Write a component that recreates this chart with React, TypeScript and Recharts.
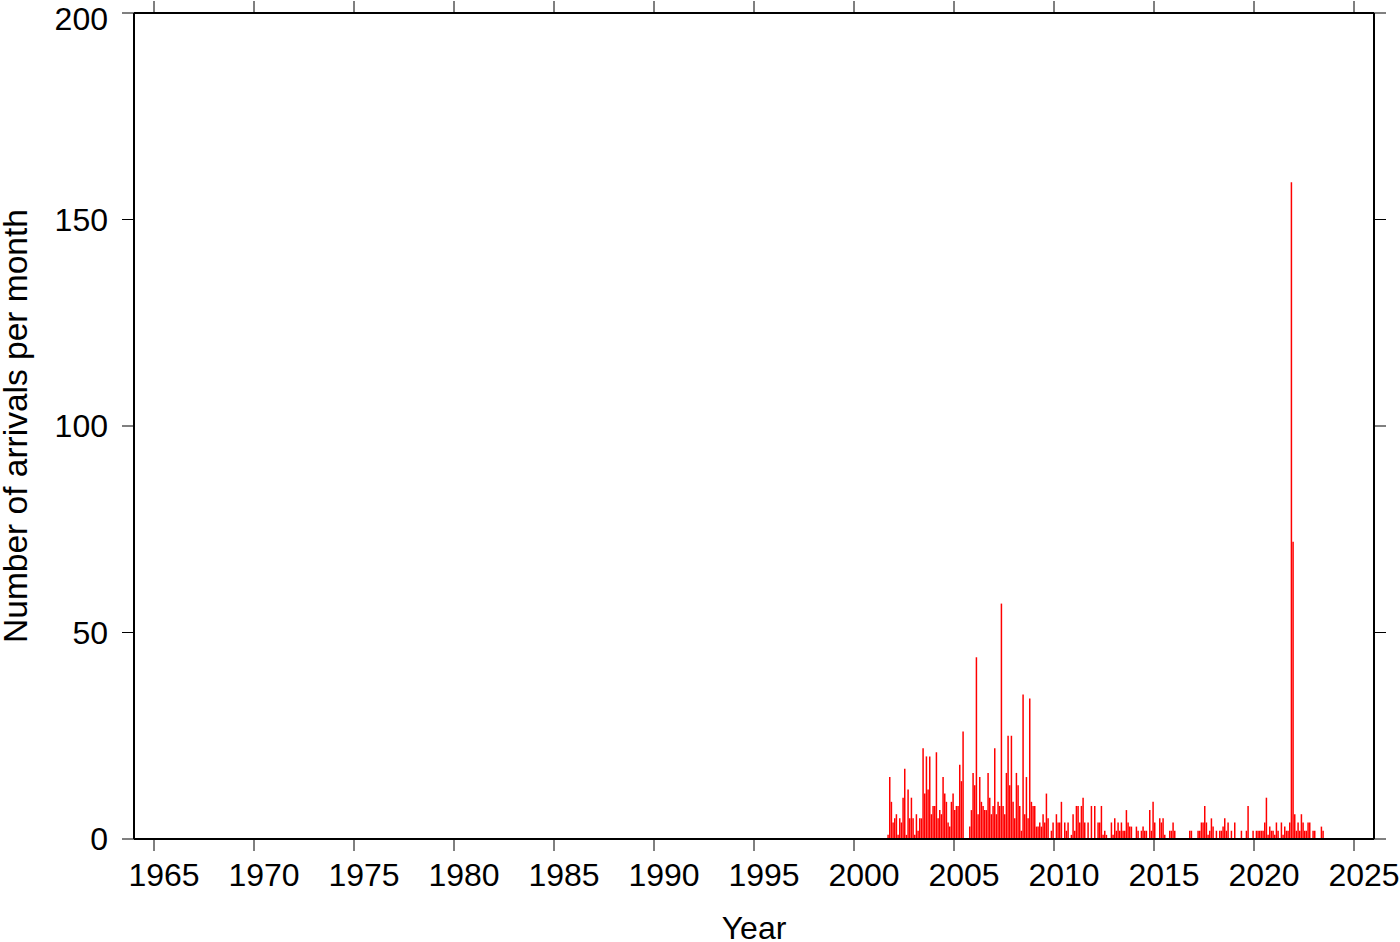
import { BarChart, Bar, XAxis, YAxis } from 'recharts';

// monthly arrival counts, starting September 2001
const startYear = 2001;
const startMonth = 8; // 0 = January
const arrivals = [
  1, 15, 9, 4, 5, 6, 1, 5, 4, 10, 17, 1, 12, 5, 10, 5, 1, 6, 2, 5, 5, 22, 11, 20, 12, 20, 6, 8, 8, 21, 5, 7, 6, 15, 11, 9, 4, 3, 9, 11, 7, 8, 8, 18,
  14, 26, 0, 0, 0, 3, 7, 16, 13, 44, 6, 15, 9, 8, 7, 7, 16, 10, 6, 8, 22, 6, 9, 8, 57, 8, 6, 16, 25, 13, 25, 9, 5, 16, 13, 8, 2, 35, 6, 15, 5, 34, 9, 8,
  8, 3, 3, 4, 3, 6, 4, 11, 5, 0, 2, 4, 0, 6, 4, 4, 9, 0, 4, 2, 4, 0, 1, 6, 2, 8, 8, 4, 8, 10, 4, 0, 4, 0, 8, 0, 8, 0, 4, 4, 8, 1, 2, 1, 0, 0,
  4, 1, 5, 2, 4, 2, 4, 2, 2, 7, 4, 3, 3, 0, 0, 3, 2, 0, 2, 3, 2, 2, 0, 7, 2, 9, 4, 0, 0, 5, 4, 5, 1, 0, 0, 2, 2, 4, 2, 0, 0, 0, 0, 0, 0, 0, 0,
  2, 2, 0, 0, 0, 2, 2, 4, 4, 8, 4, 1, 2, 5, 3, 0, 2, 0, 2, 2, 3, 5, 2, 4, 0, 2, 0, 4, 0, 0, 0, 2, 0, 0, 2, 8, 0, 0, 2,
  0, 2, 2, 2, 2, 2, 4, 10, 1, 3, 2, 2, 1, 4, 2, 0, 4, 1, 3, 2, 2, 4, 159, 72, 6, 2, 4, 2, 6, 4, 2, 2, 4, 4, 0, 2, 2, 0, 0, 0, 3, 2,
];

const xTicks = [1965, 1970, 1975, 1980, 1985, 1990, 1995, 2000, 2005, 2010, 2015, 2020, 2025];
const yTicks = [0, 50, 100, 150, 200];

// bar centred in the middle of its month
const data = arrivals.map((n, i) => ({
  t: startYear + (startMonth + i + 0.5) / 12,
  n,
}));

const font = 'Liberation Sans, Arial, Helvetica, sans-serif';
const tickStyle = { fill: '#000', fontSize: 32, fontFamily: font };
const axisLine = { stroke: '#000', strokeWidth: 2 };
const tickLine = { stroke: '#000', strokeWidth: 1 };
// frame ticks on the top and right edges carry no labels
const noLabel = () => <g />;

export default function App() {
  return (
    <div style={{ position: 'absolute', left: 0, top: 0, width: 1400, height: 942, background: '#fff' }}>
      <BarChart width={1400} height={942} data={data} margin={{ top: 0, right: 0, bottom: 0, left: 0 }}>
        <XAxis
          dataKey="t"
          type="number"
          domain={[1964, 2026]}
          ticks={xTicks}
          height={103}
          tickSize={12}
          tickMargin={12}
          tick={{ ...tickStyle, dx: 10 }}
          axisLine={axisLine}
          tickLine={tickLine}
          label={{ value: 'Year', position: 'insideBottom', offset: 3, fill: '#000', fontSize: 32, fontFamily: font }}
        />
        <XAxis
          xAxisId="top"
          dataKey="t"
          orientation="top"
          type="number"
          domain={[1964, 2026]}
          allowDataOverflow
          ticks={xTicks}
          interval={0}
          height={13}
          tickSize={12}
          tick={noLabel}
          axisLine={axisLine}
          tickLine={tickLine}
        />
        <YAxis
          type="number"
          domain={[0, 200]}
          ticks={yTicks}
          width={134}
          tickSize={12}
          tickMargin={14}
          tick={tickStyle}
          axisLine={axisLine}
          tickLine={tickLine}
          label={{
            value: 'Number of arrivals per month',
            angle: -90,
            position: 'insideLeft',
            offset: 15,
            fill: '#000',
            fontSize: 33.5,
            fontFamily: font,
            style: { textAnchor: 'middle' },
          }}
        />
        <YAxis
          yAxisId="right"
          orientation="right"
          type="number"
          domain={[0, 200]}
          allowDataOverflow
          ticks={yTicks}
          interval={0}
          width={26}
          tickSize={12}
          tick={noLabel}
          axisLine={axisLine}
          tickLine={tickLine}
        />
        <Bar dataKey="n" fill="#ff0000" barSize={1.67} isAnimationActive={false} />
      </BarChart>
    </div>
  );
}
